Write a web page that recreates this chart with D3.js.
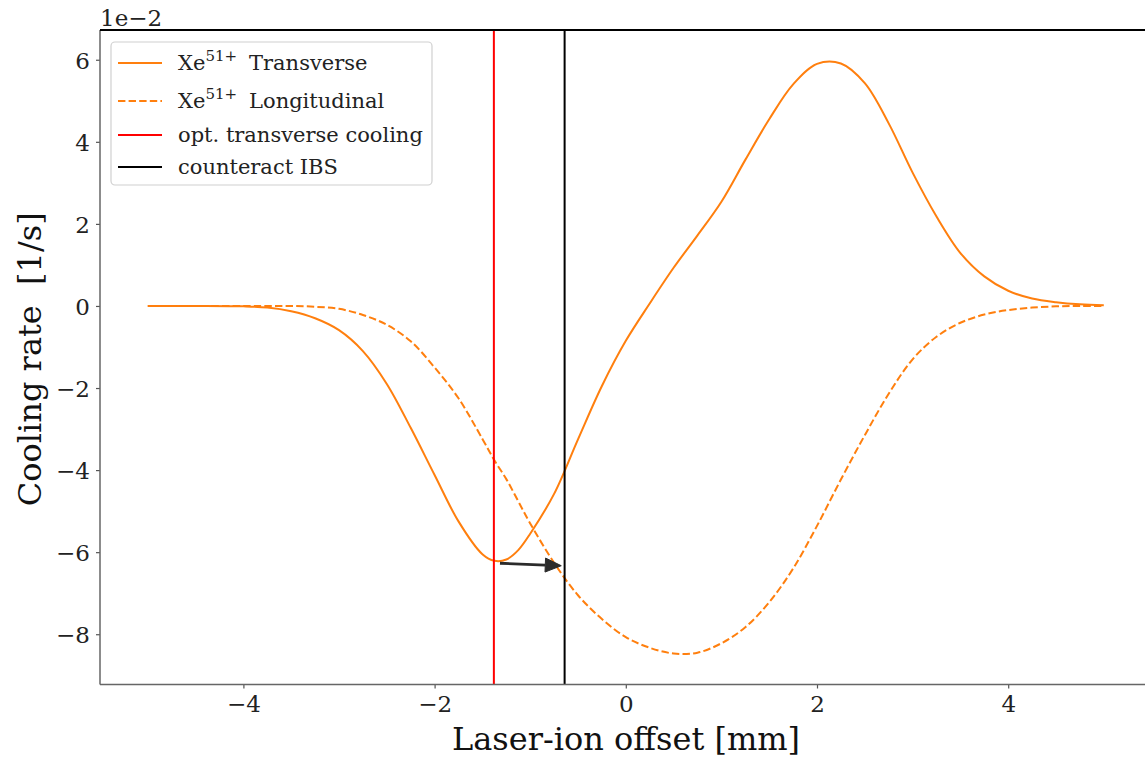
<!DOCTYPE html>
<html>
<head>
<meta charset="utf-8">
<script src="https://cdn.jsdelivr.net/npm/d3@7"></script>
<style>
  html, body { margin: 0; padding: 0; background: #fff; }
  svg { display: block; font-family: "DejaVu Serif", serif; }
</style>
</head>
<body>
<svg id="chart" width="1145" height="757"></svg>
<script>
// Laser-ion offset [mm]
const offsets = [-5, -4.5, -4, -3.75, -3.5, -3.25, -3, -2.75, -2.5, -2.25, -2, -1.75, -1.5, -1.375, -1.25, -1.125,
  -1, -0.75, -0.5, -0.25, 0, 0.25, 0.5, 0.75, 1, 1.25, 1.5, 1.75, 2, 2.25, 2.5, 2.75, 3, 3.25,
  3.5, 3.75, 4, 4.25, 4.5, 4.75, 5];

// Cooling rates in units of 1e-2 1/s
const transverse = [0, 0, -0.01, -0.04, -0.13, -0.30, -0.59, -1.10, -1.90, -2.97, -4.12, -5.25, -6.05, -6.21, -6.18, -5.95,
  -5.55, -4.58, -3.25, -1.95, -0.85, 0.06, 0.93, 1.72, 2.54, 3.56, 4.55, 5.40, 5.90, 5.91, 5.43, 4.45, 3.25, 2.18,
  1.29, 0.72, 0.37, 0.18, 0.09, 0.04, 0.02];

const longitudinal = [0, 0, 0, 0, 0, -0.02, -0.07, -0.22, -0.46, -0.86, -1.50, -2.25, -3.24, -3.76, -4.22, -4.76,
  -5.30, -6.26, -7.05, -7.63, -8.07, -8.33, -8.47, -8.45, -8.22, -7.83, -7.22, -6.40, -5.36, -4.23, -3.15, -2.14, -1.30, -0.75,
  -0.41, -0.21, -0.10, -0.04, -0.01, 0, 0];

// Reference offsets marked with vertical lines
const optTransverseOffset = -1.38;
const counteractIbsOffset = -0.64;

// Shift arrow from the optimum toward the IBS-compensating offset
const arrowFrom = [-1.316, -6.27];
const arrowTo = [-0.675, -6.33];

const xTicks = [-4, -2, 0, 2, 4];
const yTicks = [-8, -6, -4, -2, 0, 2, 4, 6];

const legendItems = [
  { sup: true, label: "Transverse", color: "#ff7f0e", dash: null },
  { sup: true, label: "Longitudinal", color: "#ff7f0e", dash: "7.4,3.2" },
  { sup: false, label: "opt. transverse cooling", color: "#ff0000", dash: null },
  { sup: false, label: "counteract IBS", color: "#000000", dash: null }
];

const svg = d3.select("#chart");
const plot = { left: 100, top: 30, right: 1151.6, bottom: 684.5 };

const x = d3.scaleLinear().domain([-5.5, 5.5]).range([plot.left, plot.right]);
const y = d3.scaleLinear().domain([-9.225, 6.725]).range([plot.bottom, plot.top]);

svg.append("defs").append("clipPath").attr("id", "plotClip")
  .append("rect")
  .attr("x", plot.left).attr("y", plot.top)
  .attr("width", plot.right - plot.left).attr("height", plot.bottom - plot.top);

const g = svg.append("g").attr("clip-path", "url(#plotClip)");

const line = d3.line().curve(d3.curveCatmullRom.alpha(0.5)).x((d) => x(d[0])).y((d) => y(d[1]));

g.append("path")
  .datum(offsets.map((o, i) => [o, transverse[i]]))
  .attr("d", line)
  .attr("fill", "none").attr("stroke", "#ff7f0e").attr("stroke-width", 2);

g.append("path")
  .datum(offsets.map((o, i) => [o, longitudinal[i]]))
  .attr("d", line)
  .attr("fill", "none").attr("stroke", "#ff7f0e").attr("stroke-width", 2)
  .attr("stroke-dasharray", "7.4,3.2");

g.append("line")
  .attr("x1", x(optTransverseOffset)).attr("x2", x(optTransverseOffset))
  .attr("y1", plot.top).attr("y2", plot.bottom)
  .attr("stroke", "#ff0000").attr("stroke-width", 2);

g.append("line")
  .attr("x1", x(counteractIbsOffset)).attr("x2", x(counteractIbsOffset))
  .attr("y1", plot.top).attr("y2", plot.bottom)
  .attr("stroke", "#000000").attr("stroke-width", 2);

// Arrow: shaft plus filled triangular head
{
  const x0 = x(arrowFrom[0]), y0 = y(arrowFrom[1]);
  const x1 = x(arrowTo[0]), y1 = y(arrowTo[1]);
  const ang = Math.atan2(y1 - y0, x1 - x0);
  const headLen = 16, headHalf = 7;
  const bx = x1 - headLen * Math.cos(ang), by = y1 - headLen * Math.sin(ang);
  g.append("line")
    .attr("x1", x0).attr("y1", y0).attr("x2", bx).attr("y2", by)
    .attr("stroke", "#2b2b2b").attr("stroke-width", 2.8);
  const px = -Math.sin(ang), py = Math.cos(ang);
  g.append("path")
    .attr("d", `M${x1},${y1}L${bx + headHalf * px},${by + headHalf * py}L${bx - headHalf * px},${by - headHalf * py}Z`)
    .attr("fill", "#2b2b2b").attr("stroke", "#2b2b2b").attr("stroke-width", 1);
}

// Axes
const fmt = (d) => d < 0 ? "\u2212" + Math.abs(d) : String(d);
const xAxis = d3.axisBottom(x).tickValues(xTicks).tickSize(4).tickPadding(6).tickFormat(fmt);
const yAxis = d3.axisLeft(y).tickValues(yTicks).tickSize(4).tickPadding(6).tickFormat(fmt);

const gx = svg.append("g").attr("transform", `translate(0,${plot.bottom})`).call(xAxis);
const gy = svg.append("g").attr("transform", `translate(${plot.left},0)`).call(yAxis);
[gx, gy].forEach((a) => {
  a.select(".domain").remove();
  a.selectAll(".tick line").attr("stroke", "#555").attr("stroke-width", 1.2);
  a.selectAll(".tick text").attr("fill", "#222").style("font-family", "DejaVu Serif").style("font-size", "23px");
});
gy.selectAll(".tick text").attr("dy", "0.36em");
gx.selectAll(".tick text").attr("dy", "0.76em");

// Spines
svg.append("line").attr("x1", plot.left).attr("x2", 1145).attr("y1", plot.bottom).attr("y2", plot.bottom)
  .attr("stroke", "#666").attr("stroke-width", 1.5);
svg.append("line").attr("x1", plot.left).attr("x2", plot.left).attr("y1", plot.top).attr("y2", plot.bottom)
  .attr("stroke", "#666").attr("stroke-width", 1.5);
svg.append("line").attr("x1", plot.left).attr("x2", 1145).attr("y1", plot.top).attr("y2", plot.top)
  .attr("stroke", "#000").attr("stroke-width", 2);

// Offset text for the y scale
svg.append("text").attr("x", plot.left).attr("y", 26)
  .style("font-size", "23px").attr("fill", "#222").text("1e\u22122");

// Axis labels
svg.append("text")
  .attr("x", 626).attr("y", 750)
  .attr("text-anchor", "middle").style("font-size", "32px").attr("fill", "#111")
  .text("Laser-ion offset [mm]");

svg.append("text")
  .attr("transform", `translate(41,${(plot.top + plot.bottom) / 2 + 2}) rotate(-90)`)
  .attr("text-anchor", "middle").style("font-size", "32px").attr("fill", "#111")
  .attr("xml:space", "preserve")
  .text("Cooling rate  [1/s]");

// Legend
const legend = svg.append("g");
legend.append("rect")
  .attr("x", 111).attr("y", 42).attr("width", 321).attr("height", 143).attr("rx", 4)
  .attr("fill", "#fff").attr("fill-opacity", 0.8).attr("stroke", "#d0d0d0").attr("stroke-width", 1.2);
const rowY = [63, 101, 135, 167];
legendItems.forEach((it, i) => {
  const row = legend.append("g");
  row.append("line").attr("x1", 118).attr("x2", 162).attr("y1", rowY[i]).attr("y2", rowY[i])
    .attr("stroke", it.color).attr("stroke-width", 2)
    .attr("stroke-dasharray", it.dash);
  const t = row.append("text").attr("x", 178).attr("y", rowY[i] + 7)
    .style("font-size", "21px").attr("fill", "#222");
  if (it.sup) {
    t.append("tspan").text("Xe");
    t.append("tspan").attr("dy", -9).style("font-size", "15px").text("51+");
    t.append("tspan").attr("dy", 9).attr("dx", 12).text(it.label);
  } else {
    t.text(it.label);
  }
});
</script>
</body>
</html>
